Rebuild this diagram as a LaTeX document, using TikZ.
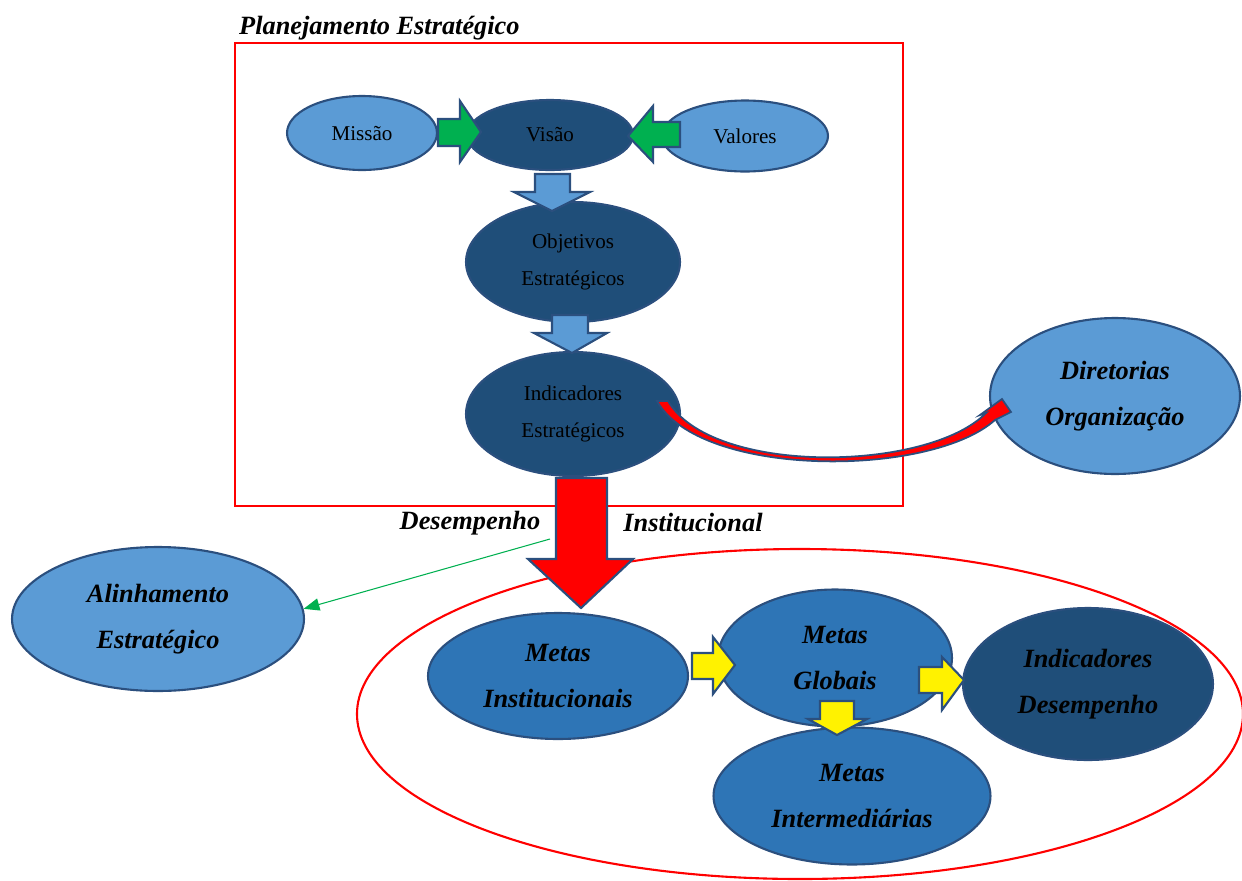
\documentclass[tikz,border=0pt]{standalone}
\usepackage{fontspec}
\setmainfont{Liberation Serif}
\usetikzlibrary{shapes.geometric,arrows.meta}
\definecolor{lightblue}{HTML}{5B9BD5}
\definecolor{darkblue}{HTML}{1F4E79}
\definecolor{midblue}{HTML}{2E75B6}
\definecolor{edgeblue}{HTML}{2B4F7E}
\definecolor{arrowgreen}{HTML}{00B050}
\begin{document}
\begin{tikzpicture}[x=0.02cm,y=-0.02cm,
    elli/.style={ellipse, draw=edgeblue, line width=1.2pt, inner sep=0pt, align=center},
    smalltxt/.style={font=\fontsize{12}{21}\selectfont},
    bigtxt/.style={font=\bfseries\itshape\fontsize{15}{26}\selectfont},
    blockarrow/.style={draw=edgeblue, line width=1.2pt, line join=miter}]
\useasboundingbox (0,0) rectangle (1242,880);

% frames
\draw[red, line width=0.9pt] (235,43) rectangle (903,506);
\draw[red, line width=1.2pt] (800,714) ellipse [x radius=443, y radius=165];
\node[anchor=west, bigtxt] (titulo) at (233,28) {Planejamento Estratégico};

% planejamento
\node[elli, fill=lightblue, smalltxt, minimum width=3cm, minimum height=1.48cm] (missao) at (362,133) {Missão};
\node[elli, fill=darkblue, smalltxt, minimum width=3.32cm, minimum height=1.4cm] (visao) at (550,135) {Visão};
\node[elli, fill=lightblue, smalltxt, minimum width=3.32cm, minimum height=1.42cm] (valores) at (745,136) {Valores};
\node[elli, fill=darkblue, smalltxt, minimum width=4.28cm, minimum height=2.4cm] (objetivos) at (573,262) {Objetivos\\Estratégicos};
\node[elli, fill=darkblue, smalltxt, minimum width=4.28cm, minimum height=2.48cm] (indicadores) at (573,414) {Indicadores\\Estratégicos};
\node[elli, fill=lightblue, bigtxt, minimum width=5cm, minimum height=3.12cm] (diretorias) at (1115,396) {Diretorias\\Organização};
\node[elli, fill=lightblue, bigtxt, minimum width=5.84cm, minimum height=2.88cm] (alinhamento) at (158,619) {Alinhamento\\Estratégico};

% metas
\node[elli, fill=midblue, bigtxt, minimum width=5.2cm, minimum height=2.52cm] (metasinst) at (558,676) {Metas\\Institucionais};
\node[elli, fill=midblue, bigtxt, minimum width=5.54cm, minimum height=2.74cm] (metasinter) at (852,796) {Metas\\Intermediárias};
\node[elli, fill=midblue, bigtxt, minimum width=4.68cm, minimum height=2.74cm] (metasglob) at (835,658) {Metas\\Globais};
\node[elli, fill=darkblue, bigtxt, minimum width=5cm, minimum height=3.04cm] (inddes) at (1088,684) {Indicadores\\Desempenho};

% block arrows
\draw[blockarrow, fill=arrowgreen] (438,119) -- (460,119) -- (460,101) -- (481,132) -- (460,162) -- (460,146) -- (438,146) -- cycle;
\draw[blockarrow, fill=arrowgreen] (680,122) -- (653,122) -- (653,106) -- (628,136) -- (653,162) -- (653,147) -- (680,147) -- cycle;
\draw[blockarrow, fill=lightblue] (535,174) -- (570,174) -- (570,192) -- (590,192) -- (552,211) -- (514,192) -- (535,192) -- cycle;
\draw[blockarrow, fill=lightblue] (552,315) -- (588,315) -- (588,333) -- (607,333) -- (572,353) -- (534,333) -- (552,333) -- cycle;
\draw[blockarrow, fill=red] (556,478) -- (607,478) -- (607,559) -- (633,559) -- (581,608) -- (528,559) -- (556,559) -- cycle;
\draw[blockarrow, fill=yellow] (692,653) -- (713,653) -- (713,637) -- (735,665) -- (713,694) -- (713,679) -- (692,679) -- cycle;
\draw[blockarrow, fill=yellow] (919,667) -- (942,667) -- (942,657) -- (964,680) -- (942,710) -- (942,693) -- (919,693) -- cycle;
\draw[blockarrow, fill=yellow] (820,701) -- (854,701) -- (854,719) -- (867,719) -- (837,735) -- (808,719) -- (820,719) -- cycle;

% curved arrow to diretorias
\draw[blockarrow, line width=1pt, fill=red] (657,401) -- (668,401) .. controls (712,476) and (928,472) .. (986,413) -- (980,415) -- (1002,399) -- (1011,412) -- (995,420) .. controls (930,478) and (700,478) .. (657,401) -- cycle;

% desempenho institucional
\node[bigtxt] (desemp) at (470,523) {Desempenho};
\node[bigtxt] (instit) at (693,523) {Institucional};
\coordinate (gstart) at (550,539);
\draw[arrowgreen, line width=0.6pt, -{Triangle[length=9pt,width=7pt]}] (gstart) -- (alinhamento.4);
\end{tikzpicture}
\end{document}
